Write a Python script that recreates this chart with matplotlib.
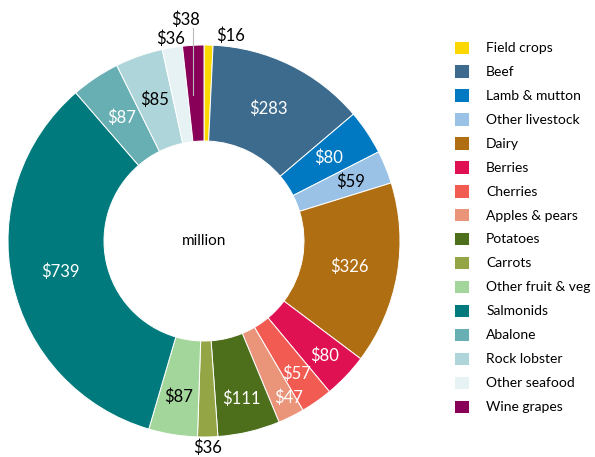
import matplotlib
matplotlib.use("Agg")
import numpy as np
from matplotlib import pyplot as plt

plt.rcParams['font.family'] = ['Lato', 'DejaVu Sans']

categories = ['Field crops', 'Beef', 'Lamb & mutton', 'Other livestock', 'Dairy',
              'Berries', 'Cherries', 'Apples & pears', 'Potatoes', 'Carrots',
              'Other fruit & veg', 'Salmonids', 'Abalone', 'Rock lobster',
              'Other seafood', 'Wine grapes']
values = [16, 283, 80, 59, 326, 80, 57, 47, 111, 36, 87, 739, 87, 85, 36, 38]
labels = ['$' + str(v) for v in values]

colors = ['#FDD800', '#3D6B8D', '#0079C2', '#9AC2E6', '#B06E12', '#E01152',
          '#F25B52', '#EA957A', '#4D6E1B', '#93A545', '#A3D69B', '#007A7C',
          '#68AFB4', '#AED5D9', '#E6F2F4', '#880058']
text_colors = ['black', 'white', 'white', 'black', 'white', 'white', 'white',
               'white', 'white', 'black', 'black', 'white', 'white', 'black',
               'black', 'black']
# label radius (pixels from centre) and angle nudge (degrees)
label_r = [207, 147, 150, 158, 148, 166, 162, 178, 162, 207, 158, 147, 148, 150, 205, 222]
label_da = [-6, 0, 0, 0, 0, 0, 0, 2, 0, 0, 0, 0, 0, 0, 0, 1.5]

W, H = 595, 457
cx, cy = 204, H - 241
R, r_in = 196, 100

fig = plt.figure(figsize=(W / 100, H / 100), dpi=100)
ax = fig.add_axes([0, 0, 1, 1])

wedges, _ = ax.pie(values, colors=colors, startangle=90, counterclock=False,
                   center=(cx, cy), radius=R,
                   wedgeprops=dict(width=R - r_in, edgecolor='white', linewidth=0.7))
ax.set_xlim(0, W)
ax.set_ylim(0, H)
ax.set_aspect('equal')
ax.axis('off')

# leader line for the wine grapes label
ax.plot([193, 193], [H - 28, H - 95], color='#BBBBBB', lw=0.8, zorder=3)

for w, lab, tc, lr, da in zip(wedges, labels, text_colors, label_r, label_da):
    ang = np.deg2rad((w.theta1 + w.theta2) / 2 + da)
    ax.text(cx + lr * np.cos(ang), cy + lr * np.sin(ang), lab, color=tc,
            fontsize=12, ha='center', va='center', zorder=4)

ax.text(cx, cy, 'million', fontsize=11, ha='center', va='center')

fig.legend(wedges, categories, loc='upper left',
           bbox_to_anchor=(448 / W, 1 - 35 / H), frameon=False, fontsize=10,
           handlelength=1.1, handleheight=1.1, handletextpad=1.25,
           labelspacing=0.76, borderaxespad=0)

fig.savefig('out.png', dpi=100)
